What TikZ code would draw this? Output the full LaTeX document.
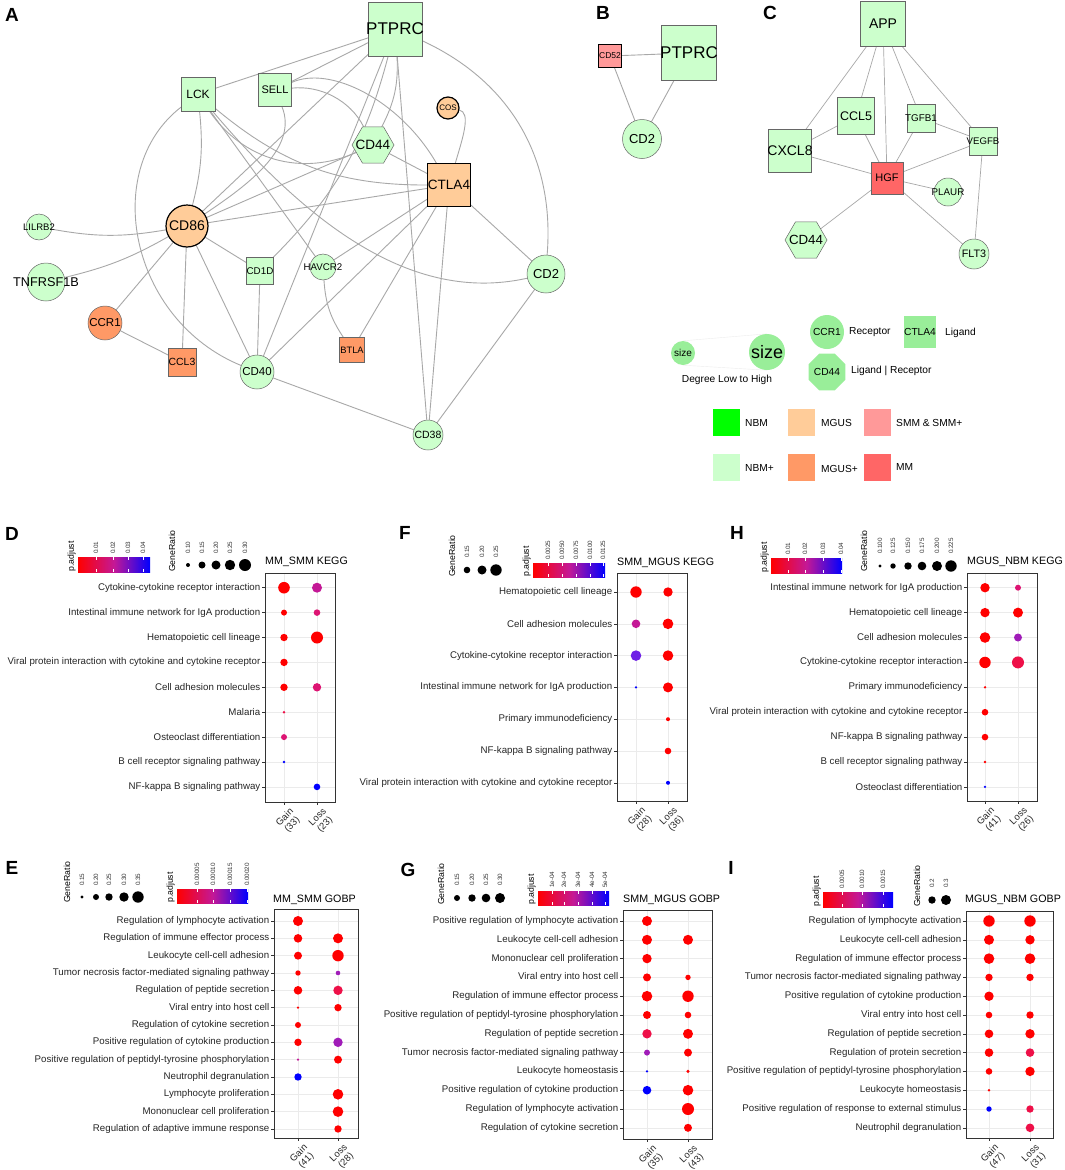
\documentclass[tikz,border=0pt]{standalone}
\usepackage{fontspec}
\setmainfont{Liberation Sans}
\usetikzlibrary{shapes.geometric}

\definecolor{nbm}{HTML}{00FF00}
\definecolor{nbmp}{HTML}{CCFFCC}
\definecolor{mgus}{HTML}{FFCC99}
\definecolor{mgusp}{HTML}{FF9966}
\definecolor{smm}{HTML}{FF9999}
\definecolor{mm}{HTML}{FF6666}
\definecolor{keygreen}{HTML}{99EE99}
\definecolor{edgegray}{HTML}{A8A8A8}
\definecolor{p0}{HTML}{FF0000}
\definecolor{p1}{HTML}{EE1048}
\definecolor{p2}{HTML}{DD1473}
\definecolor{p3}{HTML}{C41896}
\definecolor{p4}{HTML}{A01CB8}
\definecolor{p5}{HTML}{6E20E6}
\definecolor{p6}{HTML}{0000FF}

\pgfdeclarelayer{bg}
\pgfsetlayers{bg,main}

\begin{document}
\begin{tikzpicture}[x=1pt, y=-1pt,
	gene/.style={draw=black!60, line width=0.5pt, fill=nbmp, inner sep=0pt, outer sep=0pt},
	sqr/.style={gene, rectangle, minimum size=#1},
	cir/.style={gene, circle, minimum size=#1},
	hexa/.style={gene, regular polygon, regular polygon sides=6, minimum size=#1},
	hub/.style={draw=black, line width=1.2pt},
	gl/.style={font=\fontsize{#1}{#1}\selectfont, inner sep=0pt},
	link/.style={draw=edgegray, line width=0.9pt},
	letter/.style={font=\fontsize{19}{19}\selectfont\bfseries, inner sep=0pt},
	key/.style={fill=keygreen, inner sep=0pt, font=\fontsize{10.2}{11}\selectfont},
	keytext/.style={anchor=west, inner sep=0pt, font=\fontsize{10.2}{11}\selectfont},
	swatch/.style={fill=#1, minimum size=27pt, inner sep=0pt},
	rowlab/.style={anchor=east, inner sep=0pt, font=\fontsize{9.7}{10}\selectfont, text=black!85},
	xlab/.style={rotate=45, anchor=north east, align=center, inner sep=0pt, font=\fontsize{9.5}{10.5}\selectfont, text=black!85},
	ttl/.style={anchor=west, inner sep=0pt, font=\fontsize{10.7}{11}\selectfont},
	legtitle/.style={rotate=90, anchor=west, inner sep=0pt, font=\fontsize{8.7}{9}\selectfont},
	legtick/.style={rotate=90, anchor=west, inner sep=0pt, font=\fontsize{6.3}{6.3}\selectfont, text=black!80},
	gridline/.style={draw=black!8, line width=0.6pt},
	frame/.style={draw=black!80, line width=0.9pt},
	axtick/.style={draw=black!80, line width=0.6pt},
	dot/.style={circle, inner sep=0pt, minimum size=#1}]

	% Canvas

	\begin{pgfonlayer}{bg}
		\fill[white] (0,0) rectangle (1065,1170);
	\end{pgfonlayer}
	\useasboundingbox (0,0) rectangle (1065,1170);

	% Helpers for the enrichment panels

	\def\drawframe#1#2#3#4{%
		\foreach \lab [count=\i] in {#1}
		{
			\pgfmathsetmacro\ry{\rA+(\i-1)*\rd}
			\draw[gridline] (\bl,\ry) -- (\br,\ry);
			\draw[axtick] ({\bl-3},\ry) -- (\bl,\ry);
			\node[rowlab] (#2-r\i) at ({\bl-4.5},\ry) {\lab};
		}
		\draw[gridline] (\gx,\bt) -- (\gx,\bb);
		\draw[gridline] (\lx,\bt) -- (\lx,\bb);
		\draw[axtick] (\gx,\bb) -- (\gx,{\bb+3});
		\draw[axtick] (\lx,\bb) -- (\lx,{\bb+3});
		\node[xlab] (#2-xg) at ({\gx+5},{\bb+5}) {Gain\\(#3)};
		\node[xlab] (#2-xl) at ({\lx+5},{\bb+5}) {Loss\\(#4)};
	}
	\def\putdots#1#2{%
		\foreach \i/\k/\rad/\dc in {#1}
		{
			\pgfmathsetmacro\ry{\rA+(\i-1)*\rd}
			\pgfmathsetmacro\cx{\gx+\k*(\lx-\gx)}
			\node[dot=2*\rad, fill=\dc] (#2-\i-\k) at (\cx,\ry) {};
		}
		\draw[frame] (\bl,\bt) rectangle (\br,\bb);
	}
	\def\pbar#1#2#3#4#5#6{%
		\shade[left color=p0, right color=p6, middle color=p3] (#1,#2) rectangle (#3,#4);
		\node[legtitle] (#6-pa) at ({#1-6.5},#4) {p.adjust};
		\foreach \tx/\tl [count=\j] in {#5}
		{
			\draw[white, line width=0.5pt] (\tx,#2) -- (\tx,{#2+3}) (\tx,#4) -- (\tx,{#4-3});
			\node[legtick] (#6-pt\j) at (\tx,{#2-3}) {\tl};
		}
	}
	\def\sizekey#1#2#3#4#5#6{%
		\node[legtitle] (#6-gr) at (#1,#2) {GeneRatio};
		\foreach \sx/\sr/\sl [count=\j] in {#5}
		{
			\node[dot=2*\sr, fill=black] (#6-s\j) at (\sx,#3) {};
			\node[legtick] (#6-sl\j) at (\sx,#4) {\sl};
		}
	}

	% Panel A: network

	\node[letter] (la) at (12,15) {A};
	\node[sqr=54, label={[gl=17]center:PTPRC}] (ptprc) at (395,29) {};
	\node[sqr=34, label={[gl=12]center:LCK}] (lck) at (198,94) {};
	\node[sqr=33, label={[gl=11]center:SELL}] (sell) at (275,90) {};
	\node[cir=22, hub, fill=mgus, label={[gl=8]center:COS}] (cos) at (448,108) {};
	\node[hexa=42, label={[gl=13.5]center:CD44}] (cd44) at (373,145) {};
	\node[sqr=43, hub, fill=mgus, label={[gl=13.5]center:CTLA4}] (ctla4) at (449,185) {};
	\node[cir=42, hub, fill=mgus, label={[gl=14]center:CD86}] (cd86) at (187,226) {};
	\node[cir=26, label={[gl=9.5]center:LILRB2}] (lilrb2) at (39,227) {};
	\node[cir=38, label={[gl=12.7]center:TNFRSF1B}] (tnfrsf1b) at (46,282) {};
	\node[sqr=27, label={[gl=9.8]center:CD1D}] (cd1d) at (260,271) {};
	\node[cir=26, label={[gl=9.7]center:HAVCR2}] (havcr2) at (323,267) {};
	\node[cir=38, label={[gl=13]center:CD2}] (cdtwo) at (546,274) {};
	\node[cir=34, fill=mgusp, label={[gl=11.5]center:CCR1}] (ccr1) at (105,323) {};
	\node[sqr=28, fill=mgusp, label={[gl=10.4]center:CCL3}] (ccl3) at (182,362) {};
	\node[cir=34, label={[gl=11.5]center:CD40}] (cd40) at (257,372) {};
	\node[sqr=25, fill=mgusp, label={[gl=9.3]center:BTLA}] (btla) at (352,350) {};
	\node[cir=30, label={[gl=10.5]center:CD38}] (cd38) at (428,435) {};

	\begin{pgfonlayer}{bg}
		\draw[link] (ptprc) -- (lck);
		\draw[link] (ptprc) -- (sell);
		\draw[link] (ptprc) -- (cd86);
		\draw[link] (ptprc) to[bend left=15] (cd1d);
		\draw[link] (ptprc) -- (cd40);
		\draw[link] (ptprc) to[bend left=15] (cd44);
		\draw[link] (ptprc) -- (cd38);
		\draw[link] (ptprc) to[bend left=35] (cdtwo);
		\draw[link] (lck) to[bend left=10] (cd86);
		\draw[link] (lck) .. controls (100,170) and (130,320) .. (cd40);
		\draw[link] (lck) to[bend right=20] (ctla4);
		\draw[link] (lck) to[bend right=40] (cd44);
		\draw[link] (lck) -- (havcr2);
		\draw[link] (lck) .. controls (330,250) and (430,300) .. (cdtwo);
		\draw[link] (sell) .. controls (300,150) and (240,190) .. (cd86);
		\draw[link] (sell) .. controls (330,65) and (400,100) .. (ctla4);
		\draw[link] (sell) .. controls (320,85) and (350,100) .. (cd44);
		\draw[link] (cd44) -- (cd86);
		\draw[link] (cd44) -- (ctla4);
		\draw[link] (ctla4) -- (cd86);
		\draw[link] (ctla4) .. controls (462,140) and (472,112) .. (cos);
		\draw[link] (ctla4) -- (havcr2);
		\draw[link] (ctla4) -- (cd40);
		\draw[link] (ctla4) -- (btla);
		\draw[link] (ctla4) -- (cd38);
		\draw[link] (ctla4) -- (cdtwo);
		\draw[link] (cd86) to[bend left=10] (lilrb2);
		\draw[link] (cd86) to[bend left=8] (tnfrsf1b);
		\draw[link] (cd86) -- (ccr1);
		\draw[link] (cd86) -- (ccl3);
		\draw[link] (cd86) -- (cd40);
		\draw[link] (cd86) -- (cd1d);
		\draw[link] (ccr1) -- (ccl3);
		\draw[link] (cd1d) -- (cd40);
		\draw[link] (havcr2) to[bend right=15] (btla);
		\draw[link] (cd40) -- (cd38);
		\draw[link] (cdtwo) -- (cd38);
	\end{pgfonlayer}

	% Panel B

	\node[letter] (lb) at (603,13) {B};
	\node[sqr=23, hub, fill=smm, label={[gl=8.5]center:CD52}] (cd52) at (610,56) {};
	\node[sqr=55, label={[gl=17]center:PTPRC}] (bptprc) at (689,53) {};
	\node[cir=39, label={[gl=13]center:CD2}] (bcd2) at (642,139) {};
	\begin{pgfonlayer}{bg}
		\draw[link] (cd52) -- (bptprc);
		\draw[link] (cd52) -- (bcd2);
		\draw[link] (bptprc) -- (bcd2);
	\end{pgfonlayer}

	% Panel C

	\node[letter] (lc) at (770,13) {C};
	\node[sqr=45, label={[gl=14]center:APP}] (app) at (883,24) {};
	\node[sqr=37, label={[gl=12.5]center:CCL5}] (ccl5) at (856,116) {};
	\node[sqr=28, label={[gl=9.8]center:TGFB1}] (tgfb1) at (921,118) {};
	\node[sqr=28, label={[gl=9.6]center:VEGFB}] (vegfb) at (983,141) {};
	\node[sqr=43, label={[gl=14]center:CXCL8}] (cxcl8) at (790,151) {};
	\node[sqr=32, fill=mm, label={[gl=11]center:HGF}] (hgf) at (887,178) {};
	\node[cir=28, label={[gl=9.8]center:PLAUR}] (plaur) at (948,192) {};
	\node[hexa=42, label={[gl=13.3]center:CD44}] (ccd44) at (806,240) {};
	\node[cir=30, label={[gl=10.8]center:FLT3}] (flt3) at (974,254) {};
	\begin{pgfonlayer}{bg}
		\foreach \a/\b in {app/cxcl8, app/ccl5, app/hgf, app/tgfb1, app/vegfb, ccl5/cxcl8, ccl5/hgf,
			tgfb1/hgf, tgfb1/vegfb, cxcl8/hgf, hgf/vegfb, hgf/plaur, hgf/ccd44, hgf/flt3, vegfb/flt3}
			\draw[link, line width=0.7pt] (\a) -- (\b);
	\end{pgfonlayer}

	% Legend

	\node[circle, key, minimum size=24, font=\fontsize{10}{10}\selectfont] (szlo) at (683,353) {size};
	\node[circle, key, minimum size=36, font=\fontsize{18}{18}\selectfont] (szhi) at (767,352) {size};
	\begin{pgfonlayer}{bg}
		\draw[black!7] (szlo.north) -- (szhi.north);
		\draw[black!7] (szlo.south) -- (szhi.south);
	\end{pgfonlayer}
	\node[keytext, anchor=center] (kdeg) at (727,380) {Degree Low to High};
	\node[circle, key, minimum size=34] (kccr1) at (827,332) {CCR1};
	\node[keytext] (krec) at (849,332) {Receptor};
	\node[rectangle, key, minimum size=32] (kctla4) at (920,332) {CTLA4};
	\node[keytext] (klig) at (945,333) {Ligand};
	\node[regular polygon, regular polygon sides=8, key, minimum size=37] (kcd44) at (827,372) {CD44};
	\node[keytext] (kligrec) at (851,371) {Ligand | Receptor};

	\node[swatch=nbm] (snbm) at (726,422) {};
	\node[keytext] (tnbm) at (745,423) {NBM};
	\node[swatch=mgus] (smgus) at (801,422) {};
	\node[keytext] (tmgus) at (821,423) {MGUS};
	\node[swatch=smm] (ssmm) at (877,422) {};
	\node[keytext] (tsmm) at (896,423) {SMM \& SMM+};
	\node[swatch=nbmp] (snbmp) at (726,467) {};
	\node[keytext] (tnbmp) at (745,468) {NBM+};
	\node[swatch=mgusp] (smgusp) at (801,467) {};
	\node[keytext] (tmgusp) at (821,469) {MGUS+};
	\node[swatch=mm] (smm) at (877,467) {};
	\node[keytext] (tmm) at (896,467) {MM};

	% Panel D: MM_SMM KEGG

	\node[letter] (ld) at (12,534) {D};
	\pbar{78}{557}{150}{572}{96/0.01, 113/0.02, 128/0.03, 143/0.04}{d}
	\sizekey{172}{572}{565}{554}{188/2/0.10, 202/3.5/0.15, 216/4.5/0.20, 230/5.2/0.25, 245/6/0.30}{d}
	\node[ttl] (d-title) at (265,562) {MM\_SMM KEGG};
	\def\bl{265}\def\br{335}\def\bt{573}\def\bb{802}
	\def\rA{587.7}\def\rd{24.9}\def\gx{284}\def\lx{317}
	\drawframe{Cytokine-cytokine receptor interaction, Intestinal immune network for IgA production,
		Hematopoietic cell lineage, Viral protein interaction with cytokine and cytokine receptor,
		Cell adhesion molecules, Malaria, Osteoclast differentiation,
		B cell receptor signaling pathway, NF-kappa B signaling pathway}{d}{33}{23}
	\putdots{1/0/5.8/p0, 1/1/5/p3, 2/0/3/p0, 2/1/3.3/p2, 3/0/3.7/p0, 3/1/6/p0, 4/0/3.7/p0,
		5/0/3.7/p0, 5/1/4.2/p2, 6/0/1.4/p1, 7/0/3/p2, 8/0/1.4/p6, 9/1/3.3/p6}{d}

	% Panel F: SMM_MGUS KEGG

	\node[letter] (lf) at (405,533) {F};
	\sizekey{452}{577}{570}{558}{467/3.3/0.15, 482/4.5/0.20, 496/5.7/0.25}{f}
	\pbar{533}{563}{605}{577}{548/0.0025, 562/0.0050, 576/0.0075, 590/0.0100, 603/0.0125}{f}
	\node[ttl] (f-title) at (617,563) {SMM\_MGUS KEGG};
	\def\bl{617}\def\br{687}\def\bt{573}\def\bb{801}
	\def\rA{592}\def\rd{31.8}\def\gx{636}\def\lx{668}
	\drawframe{Hematopoietic cell lineage, Cell adhesion molecules,
		Cytokine-cytokine receptor interaction, Intestinal immune network for IgA production,
		Primary immunodeficiency, NF-kappa B signaling pathway,
		Viral protein interaction with cytokine and cytokine receptor}{f}{28}{36}
	\putdots{1/0/5.7/p0, 1/1/4.7/p0, 2/0/4.3/p3, 2/1/5.3/p0, 3/0/5.3/p5, 3/1/5.3/p0,
		4/0/1.3/p6, 4/1/5/p0, 5/1/2/p0, 6/1/3.3/p0, 7/1/2/p6}{f}

	% Panel H: MGUS_NBM KEGG

	\node[letter] (lh) at (737,533) {H};
	\pbar{771}{558}{842}{573}{788/0.01, 805/0.02, 823/0.03, 841/0.04}{h}
	\sizekey{864}{572}{566}{554}{880/1.7/0.100, 893/2.7/0.125, 908/3.7/0.150, 922/4.3/0.175, 937/5/0.200, 951/5.7/0.225}{h}
	\node[ttl] (h-title) at (967,562) {MGUS\_NBM KEGG};
	\def\bl{967}\def\br{1037}\def\bt{573}\def\bb{801}
	\def\rA{587.7}\def\rd{24.9}\def\gx{985}\def\lx{1018}
	\drawframe{Intestinal immune network for IgA production, Hematopoietic cell lineage,
		Cell adhesion molecules, Cytokine-cytokine receptor interaction, Primary immunodeficiency,
		Viral protein interaction with cytokine and cytokine receptor, NF-kappa B signaling pathway,
		B cell receptor signaling pathway, Osteoclast differentiation}{h}{41}{26}
	\putdots{1/0/4.7/p0, 1/1/3/p2, 2/0/4.7/p0, 2/1/5/p0, 3/0/5.3/p0, 3/1/4/p4, 4/0/5.7/p0,
		4/1/6/p1, 5/0/1.3/p0, 6/0/3.3/p0, 7/0/3.3/p0, 8/0/1.3/p0, 9/0/1.3/p6}{h}

	% Panel E: MM_SMM GOBP

	\node[letter] (le) at (12,868) {E};
	\sizekey{67}{903}{897}{886}{82/1.7/0.15, 96/3/0.20, 109/3.7/0.25, 124/4.7/0.30, 138/5.7/0.35}{e}
	\pbar{177}{889}{248}{903}{197/0.00005, 213/0.00010, 230/0.00015, 247/0.00020}{e}
	\node[ttl] (e-title) at (273,900) {MM\_SMM GOBP};
	\def\bl{274}\def\br{358}\def\bt{909}\def\bb{1138}
	\def\rA{921}\def\rd{17.33}\def\gx{298}\def\lx{338}
	\drawframe{Regulation of lymphocyte activation, Regulation of immune effector process,
		Leukocyte cell-cell adhesion, Tumor necrosis factor-mediated signaling pathway,
		Regulation of peptide secretion, Viral entry into host cell, Regulation of cytokine secretion,
		Positive regulation of cytokine production,
		Positive regulation of peptidyl-tyrosine phosphorylation, Neutrophil degranulation,
		Lymphocyte proliferation, Mononuclear cell proliferation,
		Regulation of adaptive immune response}{e}{41}{28}
	\putdots{1/0/5/p0, 2/0/4.3/p0, 2/1/5/p0, 3/0/4/p0, 3/1/5.7/p0, 4/0/2.7/p0, 4/1/2.3/p4,
		5/0/4.3/p0, 5/1/4.7/p1, 6/0/1.3/p0, 6/1/3.7/p0, 7/0/3/p0, 8/0/3.7/p0, 8/1/4.7/p4,
		9/0/1.3/p3, 9/1/4/p0, 10/0/3.7/p6, 11/1/5.3/p0, 12/1/5.3/p0, 13/1/3.7/p0}{e}

	% Panel G: SMM_MGUS GOBP

	\node[letter] (lg) at (408,870) {G};
	\sizekey{441}{905}{898}{886}{457/3/0.15, 472/3.7/0.20, 486/4.3/0.25, 500/5/0.30}{g}
	\pbar{538}{891}{609}{905}{552/1e-04, 564/2e-04, 578/3e-04, 592/4e-04, 605/5e-04}{g}
	\node[ttl] (g-title) at (623,900) {SMM\_MGUS GOBP};
	\def\bl{623}\def\br{712}\def\bt{910}\def\bb{1139}
	\def\rA{921}\def\rd{18.8}\def\gx{647}\def\lx{688}
	\drawframe{Positive regulation of lymphocyte activation, Leukocyte cell-cell adhesion,
		Mononuclear cell proliferation, Viral entry into host cell,
		Regulation of immune effector process,
		Positive regulation of peptidyl-tyrosine phosphorylation, Regulation of peptide secretion,
		Tumor necrosis factor-mediated signaling pathway, Leukocyte homeostasis,
		Positive regulation of cytokine production, Regulation of lymphocyte activation,
		Regulation of cytokine secretion}{g}{35}{43}
	\putdots{1/0/5/p0, 2/0/5/p0, 2/1/5/p0, 3/0/4.7/p0, 4/0/4/p0, 4/1/2.7/p0, 5/0/5.3/p0,
		5/1/5.7/p0, 6/0/4/p0, 6/1/3.3/p0, 7/0/4.7/p1, 7/1/5/p0, 8/0/3/p4, 8/1/4/p0,
		9/0/1.3/p6, 9/1/1.7/p0, 10/0/4.3/p6, 10/1/5.3/p0, 11/1/6/p0, 12/1/4/p0}{g}

	% Panel I: MGUS_NBM GOBP

	\node[letter] (li) at (731,868) {I};
	\pbar{823}{892}{893}{907}{842/0.0005, 862/0.0010, 883/0.0015}{i}
	\sizekey{917}{907}{900}{888}{932/3.7/0.2, 946/5/0.3}{i}
	\node[ttl] (i-title) at (965,900) {MGUS\_NBM GOBP};
	\def\bl{966}\def\br{1053}\def\bt{911}\def\bb{1138}
	\def\rA{921}\def\rd{18.8}\def\gx{989}\def\lx{1030}
	\drawframe{Regulation of lymphocyte activation, Leukocyte cell-cell adhesion,
		Regulation of immune effector process, Tumor necrosis factor-mediated signaling pathway,
		Positive regulation of cytokine production, Viral entry into host cell,
		Regulation of peptide secretion, Regulation of protein secretion,
		Positive regulation of peptidyl-tyrosine phosphorylation, Leukocyte homeostasis,
		Positive regulation of response to external stimulus, Neutrophil degranulation}{i}{47}{31}
	\putdots{1/0/5.7/p0, 1/1/5.7/p0, 2/0/5/p0, 2/1/4.7/p0, 3/0/5.3/p0, 3/1/5.3/p0, 4/0/3.7/p0,
		4/1/3.7/p0, 5/0/4.7/p0, 6/0/3.3/p0, 6/1/3.7/p0, 7/0/4.3/p0, 7/1/4.7/p0, 8/0/4.3/p0,
		8/1/4.3/p1, 9/0/3.3/p0, 9/1/4.7/p0, 10/0/1.3/p0, 11/0/2.7/p6, 11/1/3.7/p1, 12/1/4.3/p1}{i}

\end{tikzpicture}
\end{document}
